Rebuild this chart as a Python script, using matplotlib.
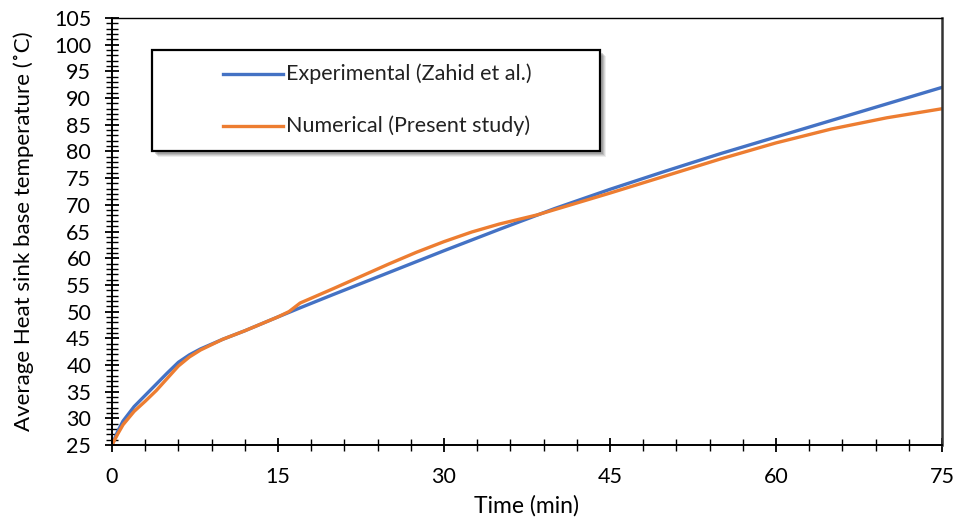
import numpy as np
import matplotlib.pyplot as plt
from matplotlib.ticker import MultipleLocator
from matplotlib.patches import Rectangle
from matplotlib.lines import Line2D

plt.rcParams['font.family'] = ['Lato', 'DejaVu Sans']

# Experimental data (Zahid et al.)
t_exp = [0, 0.5, 1, 2, 3, 4, 5, 6, 7, 8, 10, 12, 15, 17, 20, 25, 30, 35, 40, 45, 50, 55, 60, 65, 70, 75]
T_exp = [25, 27.5, 29.5, 32.2, 34.3, 36.4, 38.5, 40.5, 41.9, 43.0, 44.8, 46.4, 49, 50.7, 53.2, 57.3,
         61.4, 65.4, 69.3, 72.9, 76.3, 79.6, 82.7, 85.8, 88.9, 92]

# Numerical data (present study)
t_num = [0, 0.5, 1, 2, 3, 4, 5, 6, 7, 8, 10, 12, 15, 16, 17, 20, 25, 27.5, 30, 32.5, 35, 38.4, 45, 50,
         55, 60, 65, 70, 75]
T_num = [25, 27, 28.8, 31.3, 33.2, 35.2, 37.5, 39.8, 41.5, 42.8, 44.8, 46.4, 49, 50, 51.6, 54.3, 58.9,
         61.1, 63.1, 64.9, 66.4, 68.1, 72.2, 75.4, 78.6, 81.6, 84.2, 86.3, 88]

labels = ['Experimental (Zahid et al.)', 'Numerical (Present study)']
colors = ['#4472C4', '#ED7D31']

W, H = 957, 524
fig = plt.figure(figsize=(W / 100, H / 100), dpi=100)
ax = fig.add_axes([112 / W, 1 - 445 / H, 830 / W, 427 / H])

ax.plot(t_exp, T_exp, color=colors[0], linewidth=2.4)
ax.plot(t_num, T_num, color=colors[1], linewidth=2.4)

ax.set_xlim(0, 75)
ax.set_ylim(25, 105)
ax.xaxis.set_major_locator(MultipleLocator(15))
ax.xaxis.set_minor_locator(MultipleLocator(3))
ax.yaxis.set_major_locator(MultipleLocator(5))
ax.yaxis.set_minor_locator(MultipleLocator(1))
ax.tick_params(which='major', direction='inout', length=10, width=1.3, labelsize=15.5)
ax.tick_params(which='minor', direction='inout', length=8, width=1.0)
ax.tick_params(axis='y', which='major', pad=10)
ax.tick_params(axis='x', which='major', pad=11)
for s in ax.spines.values():
    s.set_linewidth(1.4)
    s.set_color('black')
ax.spines['top'].set_linewidth(1.0)
ax.spines['right'].set_linewidth(1.8)
ax.spines['right'].set_color('#333333')

ax.set_xlabel('Time (min)', fontsize=16.5, labelpad=6)
ax.set_ylabel('Average Heat sink base temperature (\u02daC)', fontsize=16, labelpad=14)


# legend box drawn in figure pixel coordinates
def fx(x):
    return x / W


def fy(y):
    return 1 - y / H


bx0, by0, bx1, by1 = 152, 50, 600, 151
for off, a in [(6, 0.10), (5, 0.15), (4, 0.2), (3, 0.25)]:
    fig.add_artist(Rectangle((fx(bx0 + off), fy(by1 + off)), fx(bx1 - bx0), (by1 - by0) / H,
                             transform=fig.transFigure, facecolor='#555555', edgecolor='none',
                             alpha=a, zorder=5))
fig.add_artist(Rectangle((fx(bx0), fy(by1)), fx(bx1 - bx0), (by1 - by0) / H,
                         transform=fig.transFigure, facecolor='white', edgecolor='black',
                         linewidth=1.6, zorder=6))
for i, (lab, c) in enumerate(zip(labels, colors)):
    yy = 74 + i * 52
    fig.add_artist(Line2D([fx(223), fx(283)], [fy(yy), fy(yy)], transform=fig.transFigure,
                          color=c, linewidth=2.4, zorder=7))
    fig.text(fx(286), fy(yy), lab, fontsize=15.5, va='center', ha='left', color='#222222', zorder=7)

fig.savefig('out.png', dpi=100)
